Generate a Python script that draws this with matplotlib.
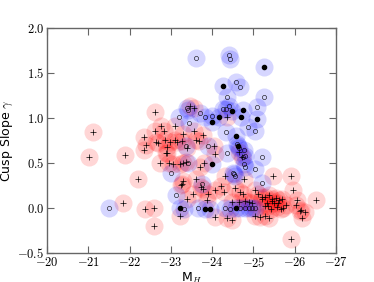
import numpy as np
import matplotlib
matplotlib.use('Agg')
import matplotlib.pyplot as plt

plt.rcParams['mathtext.fontset'] = 'cm'

# Data: absolute magnitude M_H vs cusp slope gamma
# red: "+" markers
red_mh = [-21.12, -21.01, -21.90, -22.20, -21.83, -22.37, -22.59, -22.58,
          -22.62, -22.76, -22.35, -22.40, -22.35, -22.90, -22.74, -22.96, -23.22,
          -22.61, -22.84, -23.10, -23.57, -23.30, -23.79, -23.62, -23.69, -23.09,
          -23.16, -22.63, -22.70, -22.85, -22.91, -22.99, -23.27, -23.38,
          -22.88, -23.04, -23.30, -23.37, -23.70, -23.80,
          -23.30, -23.27, -23.25, -23.62, -23.73, -23.78, -23.54, -23.40, -23.91,
          -23.87, -23.22, -23.47, -23.55, -24.36,
          -24.05, -24.07, -24.66, -24.73,
          -24.32, -24.77, -24.21, -24.06, -24.28, -24.56, -24.68, -24.74,
          -25.04, -25.11, -25.21, -25.29, -25.37,
          -24.48, -24.64, -24.80, -24.36, -24.48, -25.04, -25.16, -24.08,
          -24.96, -24.89,
          -25.47, -25.91, -25.95, -26.52, -25.55, -25.61, -25.69, -25.44, -26.05,
          -26.13, -26.24, -26.17, -25.92,
          -25.35, -25.43, -25.22, -25.28, -25.39, -25.28, -25.67, -25.80, -25.72,
          -26.04, -26.16, -25.50, -25.60, -25.33, -25.45, -25.57]
red_gamma = [0.84, 0.57, 0.59, 0.32, 0.05, -0.01, 0.00, -0.20,
             1.07, 0.91, 0.79, 0.70, 0.64, 0.61, 0.50, 0.50, 0.49,
             0.85, 0.85, 0.91, 0.86, 0.82, 0.81, 0.76, 0.74, 0.76,
             0.73, 0.73, 0.72, 0.76, 0.68, 0.73, 0.74, 0.67,
             0.61, 0.49, 0.50, 0.51, 0.46, 0.50,
             0.30, 0.27, 0.26, 0.32, 0.23, 0.21, 0.16, 0.10, 0.16,
             0.09, -0.09, 1.13, 1.11, 1.01,
             0.69, 0.60, 0.62, 0.57,
             0.35, 0.32, 0.24, 0.20, 0.18, 0.22, 0.18, 0.16,
             0.20, 0.16, 0.12, 0.12, 0.14,
             0.07, 0.07, 0.08, -0.11, -0.13, -0.09, -0.10, -0.10,
             0.06, 0.07,
             0.35, 0.35, 0.20, 0.09, 0.11, 0.09, 0.10, 0.10, 0.09,
             -0.03, -0.04, -0.11, -0.34,
             0.02, -0.01, 0.10, 0.02, -0.11, -0.09, -0.01, 0.03, 0.00,
             0.03, -0.02, 0.05, 0.06, 0.05, 0.08, 0.01]

# blue: open circle markers
blue_mh = [-21.51, -23.00, -23.12, -23.61, -23.39, -23.42, -23.70, -23.20, -23.45,
           -23.91, -23.36, -23.41, -23.75, -23.33, -23.67,
           -24.41, -24.44, -24.58, -24.67, -24.37, -25.26, -25.10, -23.83, -23.99,
           -24.33, -24.87, -25.04, -24.26, -24.34, -24.40,
           -24.36, -24.77, -24.80, -24.74, -25.21, -24.77, -24.80, -25.03, -24.50,
           -24.53, -24.56, -25.21, -24.60, -24.65,
           -24.32, -24.44, -24.68, -24.80, -24.89, -24.97, -25.05]
blue_gamma = [0.00, 0.39, 0.14, 1.67, 1.11, 1.09, 1.06, 1.01, 0.94,
              0.69, 0.69, 0.50, 0.27, -0.01, 0.00,
              1.70, 1.66, 1.40, 1.34, 1.23, 1.23, 1.12, 1.01, 1.02,
              0.84, 0.90, 0.86, 1.10, 1.10, 1.13,
              0.61, 0.64, 0.58, 0.57, 0.57, 0.49, 0.46, 0.43, 0.39,
              0.38, 0.36, 0.28, 0.71, 0.67,
              0.00, -0.01, 0.00, 0.00, 0.00, 0.00, 0.00]

# blue: filled black markers
core_mh = [-23.23, -23.82, -23.95, -24.58, -25.25, -24.27, -24.75, -24.49,
           -24.71, -25.09, -24.16, -24.00, -24.59, -24.62, -24.00]
core_gamma = [0.00, -0.01, -0.01, 0.00, 1.57, 1.36, 1.09, 1.08,
              1.01, 0.99, 1.01, 0.96, 0.80, 0.69, 0.49]

fig = plt.figure(figsize=(3.74, 2.82), dpi=100)
ax = fig.add_axes([0.126, 0.103, 0.772, 0.798])

circ = 13
ax.plot(red_mh, red_gamma, 'o', color='red', alpha=0.16, markersize=circ,
        markeredgewidth=0)
ax.plot(blue_mh + core_mh, blue_gamma + core_gamma, 'o', color='blue', alpha=0.16,
        markersize=circ, markeredgewidth=0)

ax.plot(red_mh, red_gamma, '+', color='black', markersize=4, markeredgewidth=0.5)
ax.plot(blue_mh, blue_gamma, 'o', markerfacecolor='none', markeredgecolor='black',
        markersize=3, markeredgewidth=0.4)
ax.plot(core_mh, core_gamma, 'o', color='black', markersize=3)

ax.set_xlim(-20, -27)
ax.set_ylim(-0.5, 2.0)
ax.set_xticks(np.arange(-20, -28, -1))
ax.set_yticks(np.arange(-0.5, 2.01, 0.5))
ax.set_xticklabels(['$%d$' % v for v in range(-20, -28, -1)])
ax.set_yticklabels(['$%.1f$' % v for v in np.arange(-0.5, 2.01, 0.5)])

ax.tick_params(direction='in', top=True, right=True, length=5, width=0.8,
               color='#666666', labelsize=9, pad=2)
for s in ax.spines.values():
    s.set_color('#666666')
    s.set_linewidth(1.0)

ax.set_xlabel('M$_H$', fontsize=9, labelpad=1)
ax.set_ylabel(r'Cusp Slope $\gamma$', fontsize=9, labelpad=2)

fig.savefig('out.png', dpi=100)
